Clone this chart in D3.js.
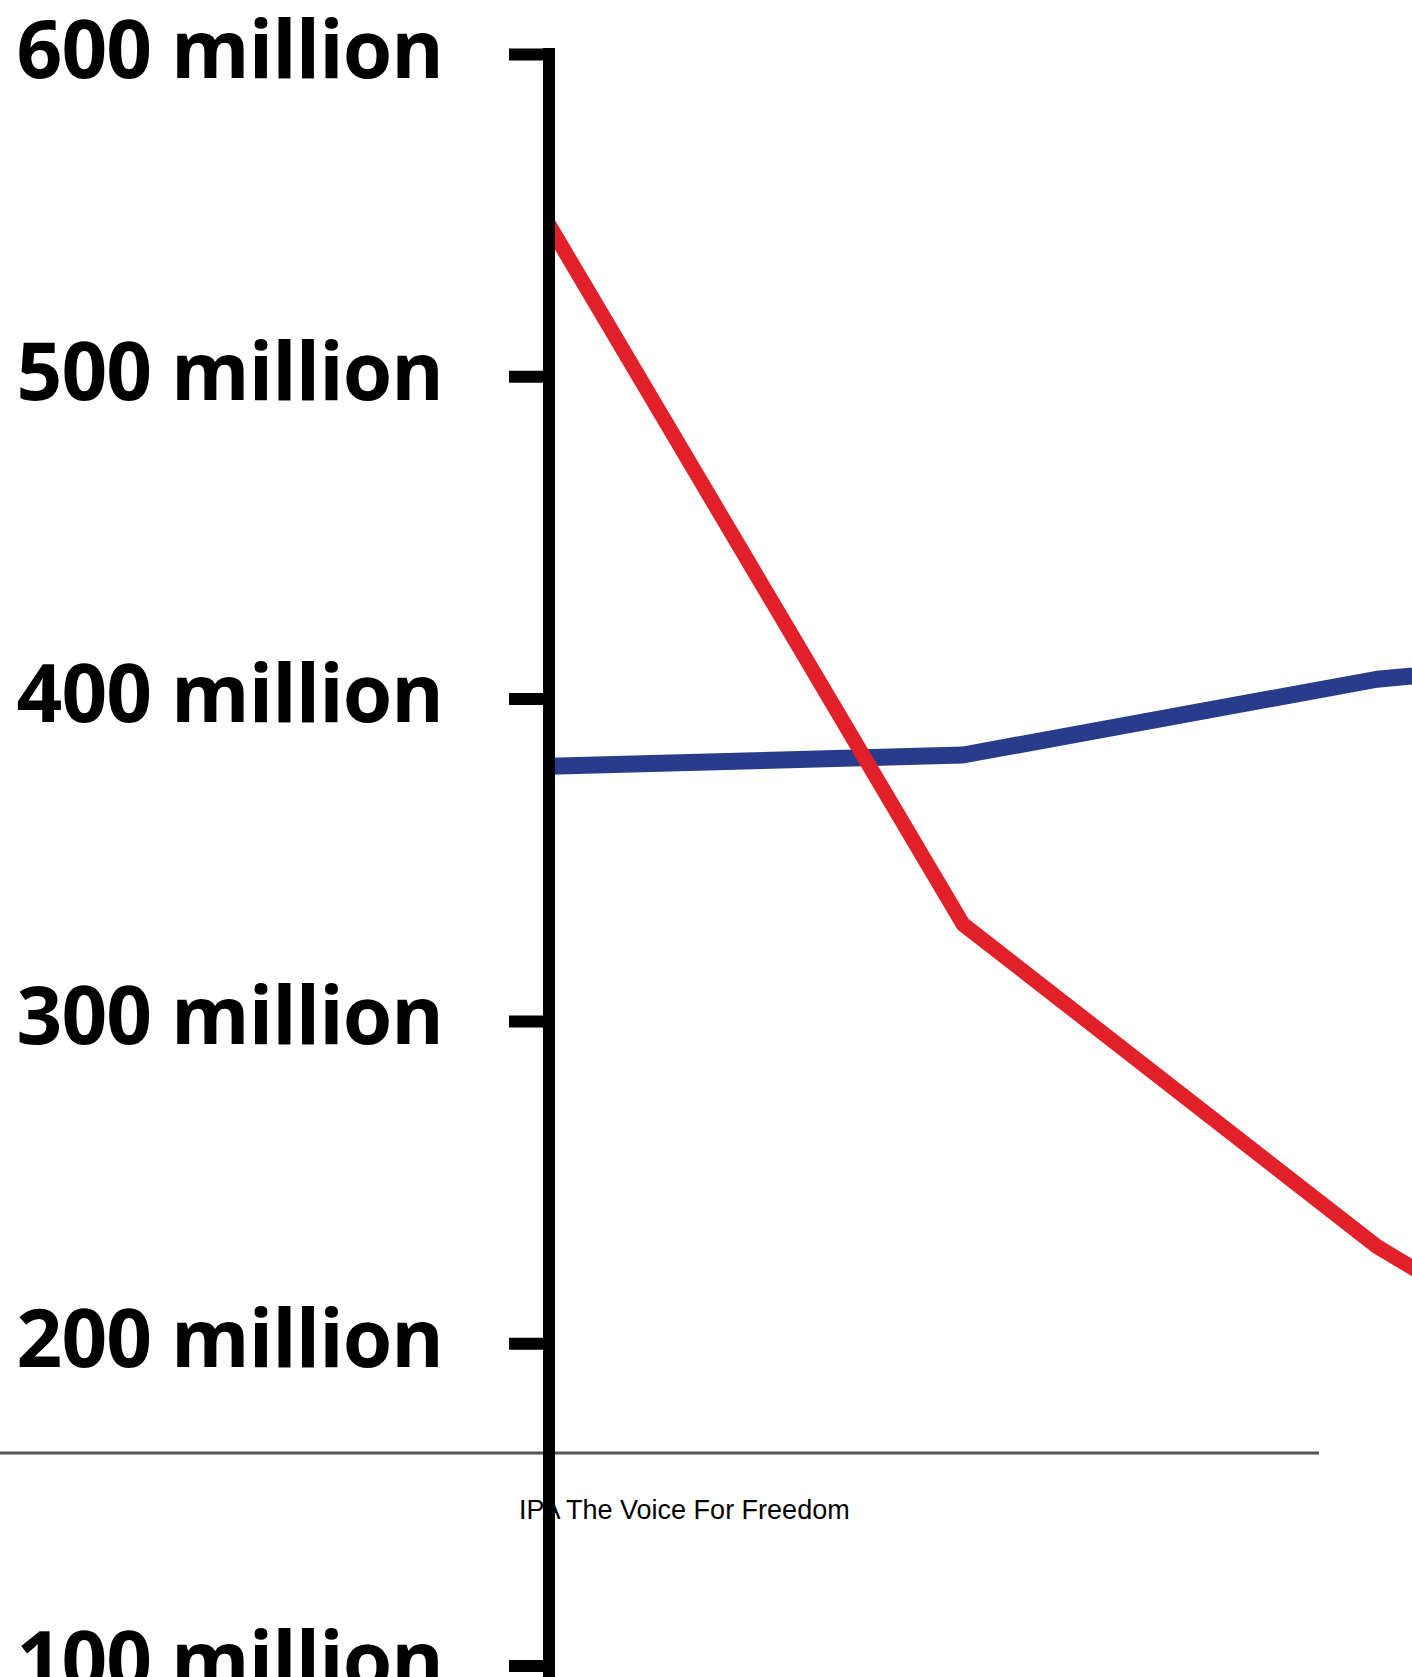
<!DOCTYPE html>
<html>
<head>
<meta charset="utf-8">
<script src="https://cdn.jsdelivr.net/npm/d3@7"></script>
<style>
  body { margin: 0; background: #fff; }
  svg { display: block; }
</style>
</head>
<body>
<svg class="chart"></svg>
<script>
// data (values in millions)
const periods = [0, 1, 2, 3]
const redValues = [547, 330, 230, 153]
const blueValues = [379, 382.5, 406, 418]
const yTicks = [100, 200, 300, 400, 500, 600]
const footerText = 'IPA The Voice For Freedom'

//global variables
const w = 1412
const h = 1677
const axisX = 549

const svg = d3.select('.chart')
              .attr('width', w)
              .attr('height', h)

const x = d3.scaleLinear()
            .domain([0, 1])
            .range([axisX, 963])

const y = d3.scaleLinear()
            .domain([100, 600])
            .range([1665.5, 54])

// grey rule and footer text sit under the axis
svg.append('line')
   .attr('x1', 0)
   .attr('x2', 1319)
   .attr('y1', 1453)
   .attr('y2', 1453)
   .style('stroke', '#555')
   .style('stroke-width', 3)

svg.append('text')
   .text(footerText)
   .attr('x', 519)
   .attr('y', 1519)
   .style('font-family', '"Liberation Sans", Arial, sans-serif')
   .style('font-size', '27px')
   .style('fill', '#000')

const line = d3.line()
               .x((d, i) => x(periods[i]))
               .y(d => y(d))

const series = [
  { name: 'blue', values: blueValues, color: '#293c8c', width: 17 },
  { name: 'red', values: redValues, color: '#e2202a', width: 15 }
]

svg.selectAll('path.series')
   .data(series)
   .enter()
   .append('path')
   .attr('class', 'series')
   .attr('d', s => line(s.values))
   .style('fill', 'none')
   .style('stroke', s => s.color)
   .style('stroke-width', s => s.width)
   .style('stroke-linejoin', 'round')

// y axis, drawn last so it covers the line starts
const yAxis = d3.axisLeft(y)
                .tickValues(yTicks)
                .tickSize(40)
                .tickSizeOuter(0)
                .tickPadding(66)
                .tickFormat(d => d + ' million')

const axisG = svg.append('g')
                 .attr('transform', `translate(${axisX}, 0)`)
                 .call(yAxis)

axisG.select('.domain').remove()

axisG.selectAll('.tick line')
     .style('stroke', '#000')
     .style('stroke-width', 12)

axisG.selectAll('.tick text')
     .attr('dy', '23px')
     .style('font-family', '"Open Sans", sans-serif')
     .style('font-weight', 700)
     .style('font-size', '80px')
     .style('letter-spacing', '-0.9px')
     .style('fill', '#000')

axisG.append('line')
     .attr('x1', 0)
     .attr('x2', 0)
     .attr('y1', y(600) - 6)
     .attr('y2', h)
     .style('stroke', '#000')
     .style('stroke-width', 12)
</script>
</body>
</html>
